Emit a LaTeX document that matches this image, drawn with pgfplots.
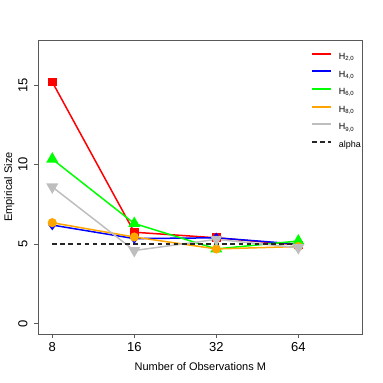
\documentclass[border=0pt]{standalone}
\usepackage{fontspec}
\setmainfont{Liberation Sans}
\usepackage{pgfplots}
\pgfplotsset{compat=1.18}

\definecolor{rred}{RGB}{255,0,0}
\definecolor{rblue}{RGB}{0,0,255}
\definecolor{rgreen}{RGB}{0,255,0}
\definecolor{rorange}{RGB}{255,165,0}
\definecolor{rgray}{RGB}{190,190,190}

\begin{document}
\begin{tikzpicture}[x=1pt,y=1pt]
\useasboundingbox (-38,-49) rectangle (345,334);
\begin{axis}[
    at={(0,0)}, anchor=south west,
    scale only axis,
    width=324.7pt, height=294pt,
    xmin=-0.174, xmax=3.785,
    ymin=-0.65, ymax=17.84,
    xtick={0,1,2,3}, xticklabels={8,16,32,64},
    ytick={0,5,10,15}, yticklabels={0,5,10,15},
    tick pos=left, tick align=outside,
    major tick length=4pt,
    axis line style={black!65, line width=0.7pt},
    tick style={black!65, line width=0.7pt},
    ticklabel style={font=\fontsize{13}{13}\selectfont, inner sep=0pt},
    /pgf/number format/assume math mode=true,
    xticklabel style={anchor=north},
    xticklabel shift=4.7pt,
    yticklabel style={rotate=90, anchor=south},
    yticklabel shift=6.3pt,
    xlabel={Number of Observations M},
    ylabel={Empirical Size},
    label style={font=\fontsize{11}{11}\selectfont, inner sep=0pt},
    xlabel style={at={(axis description cs:0.5,0)}, anchor=base, yshift=-36.7pt},
    ylabel style={at={(axis description cs:-0.080,0.5)}, anchor=base, rotate=0},
    legend cell align=left,
    legend image code/.code={\draw[#1, line width=2pt] (0pt,3.3pt) -- (18.6pt,3.3pt);},
    legend style={draw=none, fill=none, inner sep=0pt,
        at={(rel axis cs:0.84,0.957)}, anchor=north west,
        font=\fontsize{9}{9}\selectfont, row sep=8.9pt,
        nodes={inner sep=0pt, text height=6.7pt, text depth=2pt},
        /tikz/every odd column/.append style={column sep=7.4pt}},
]
\addplot[rred, line width=1.5pt, mark=square*, mark size=3.6pt, mark options={draw=none, fill=rred}]
  coordinates {(0,15.2) (1,5.75) (2,5.4) (3,4.95)};
\addplot[rblue, line width=1.5pt, mark=diamond*, mark size=4pt, mark options={draw=none, fill=rblue}]
  coordinates {(0,6.2) (1,5.35) (2,5.4) (3,5.0)};
\addplot[rgreen, line width=1.5pt, mark=triangle*, mark size=5.5pt, mark options={draw=none, fill=rgreen}]
  coordinates {(0,10.35) (1,6.3) (2,4.7) (3,5.2)};
\addplot[rorange, line width=1.5pt, mark=*, mark size=3.8pt, mark options={draw=none, fill=rorange}]
  coordinates {(0,6.35) (1,5.45) (2,4.7) (3,4.85)};
\addplot[rgray, line width=1.5pt, mark=triangle*, mark size=5.5pt, mark options={draw=none, fill=rgray, rotate=180}]
  coordinates {(0,8.6) (1,4.6) (2,5.3) (3,4.78)};
\addplot[black!85, line width=1.5pt, dash pattern=on 4.7pt off 3.4pt]
  coordinates {(0,5) (3,5)};
\legend{H\textsubscript{2,0}, H\textsubscript{4,0}, H\textsubscript{6,0}, H\textsubscript{8,0}, H\textsubscript{9,0}, alpha}
\end{axis}
\end{tikzpicture}
\end{document}
